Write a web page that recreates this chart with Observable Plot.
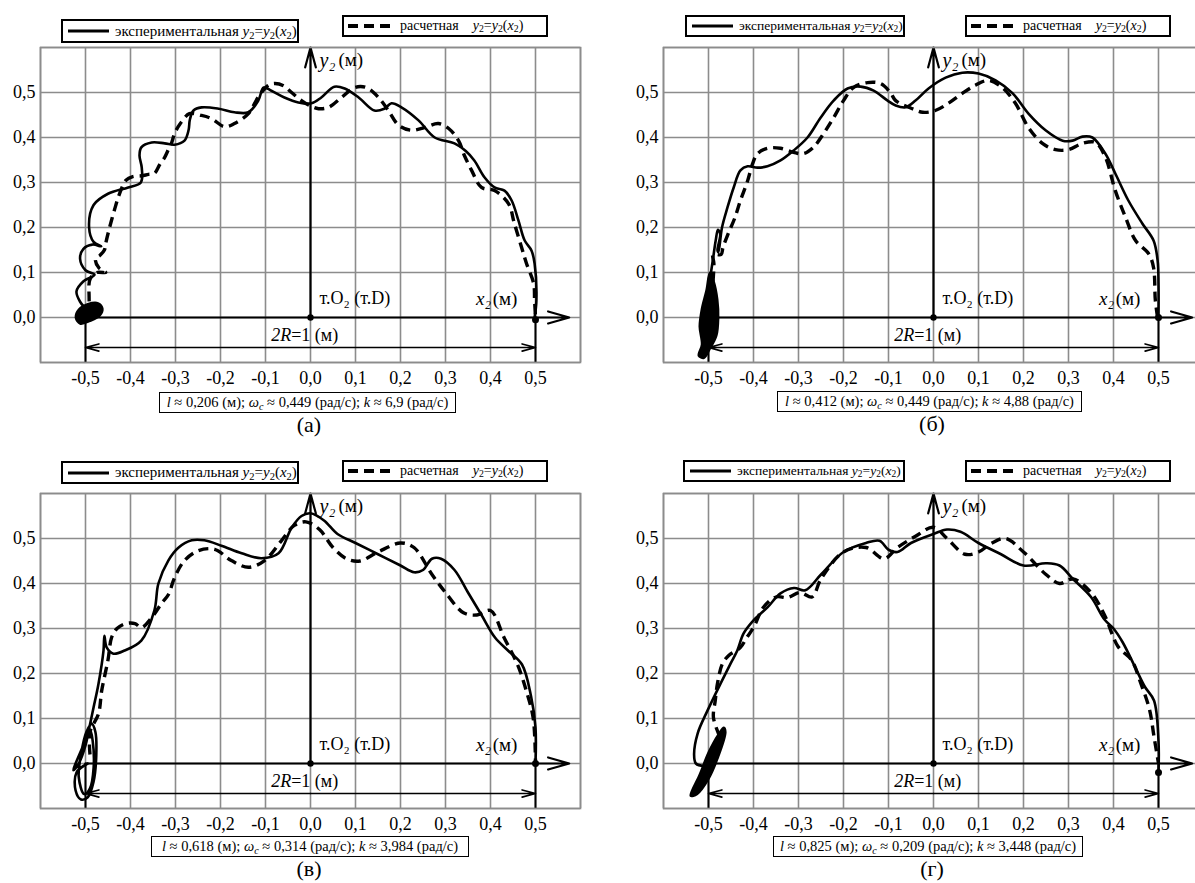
<!DOCTYPE html>
<html><head><meta charset="utf-8">
<script src="https://cdn.jsdelivr.net/npm/d3@7"></script>
<script src="https://cdn.jsdelivr.net/npm/@observablehq/plot@0.6"></script>
<style>
body{margin:0;background:#fff}
#fig{position:relative;width:1195px;height:883px;overflow:hidden;background:#fff;font-family:"Liberation Serif","DejaVu Serif","Times New Roman",serif;color:#000}
.pl{position:absolute;width:600px;height:440px}
.pl svg{max-width:none !important;width:600px;height:440px}
.box{position:absolute;border:2px solid #000;box-sizing:border-box;background:#fff;white-space:nowrap;display:flex;align-items:center;font-size:15px}
.box svg{flex:none}
.cap{position:absolute;border:1.5px solid #000;box-sizing:border-box;background:#fff;white-space:nowrap;text-align:center;font-size:14.5px;line-height:18px}
.let{position:absolute;width:100px;text-align:center;font-size:22px}
sub{font-size:0.7em;vertical-align:-0.25em;line-height:0}
</style></head><body><div id="fig"></div>
<script>
// ---------- data ----------
const gridX = [-0.6,-0.5,-0.4,-0.3,-0.2,-0.1,0,0.1,0.2,0.3,0.4,0.5,0.6];
const gridY = [-0.1,0,0.1,0.2,0.3,0.4,0.5,0.6];
const xTicks = [-0.5,-0.4,-0.3,-0.2,-0.1,0,0.1,0.2,0.3,0.4,0.5];
const yTicks = [0,0.1,0.2,0.3,0.4,0.5];
const panelLetters = ["(а)","(б)","(в)","(г)"];
const lValues = ["0,206","0,412","0,618","0,825"];
const omegaValues = ["0,449","0,449","0,314","0,209"];
const kValues = ["6,9","4,88","3,984","3,448"];

// panel (а)
const blobA = [[-0.522,0.0],[-0.515,0.018],[-0.495,0.03],[-0.472,0.032],[-0.462,0.02],[-0.468,0.004],[-0.49,-0.008],[-0.512,-0.014]];
const solidA = [[-0.49,0.01],[-0.512,0.035],[-0.52,0.058],[-0.505,0.08],[-0.48,0.095],[-0.50,0.105],[-0.512,0.13],[-0.505,0.152],[-0.485,0.162],[-0.465,0.158],[-0.482,0.168],[-0.492,0.2],[-0.482,0.25],[-0.45,0.275],[-0.405,0.289],[-0.377,0.30],[-0.375,0.333],[-0.38,0.36],[-0.376,0.378],[-0.353,0.389],[-0.324,0.387],[-0.302,0.384],[-0.28,0.393],[-0.271,0.416],[-0.268,0.44],[-0.26,0.46],[-0.242,0.467],[-0.204,0.464],[-0.169,0.456],[-0.138,0.456],[-0.116,0.482],[-0.104,0.511],[-0.087,0.504],[-0.058,0.489],[-0.027,0.478],[0.002,0.476],[0.024,0.489],[0.053,0.513],[0.076,0.509],[0.107,0.489],[0.142,0.46],[0.164,0.464],[0.18,0.476],[0.202,0.467],[0.24,0.438],[0.276,0.40],[0.32,0.387],[0.345,0.37],[0.364,0.349],[0.387,0.311],[0.409,0.289],[0.431,0.282],[0.447,0.26],[0.462,0.216],[0.476,0.171],[0.491,0.149],[0.498,0.12],[0.502,0.038],[0.498,0.0]];
const dashedA = [[-0.49,0.0],[-0.492,0.045],[-0.49,0.085],[-0.475,0.1],[-0.455,0.1],[-0.47,0.11],[-0.478,0.13],[-0.468,0.138],[-0.458,0.15],[-0.455,0.165],[-0.447,0.198],[-0.436,0.238],[-0.424,0.276],[-0.41,0.305],[-0.395,0.313],[-0.375,0.315],[-0.36,0.318],[-0.347,0.32],[-0.335,0.34],[-0.324,0.356],[-0.315,0.375],[-0.309,0.387],[-0.302,0.409],[-0.29,0.43],[-0.269,0.453],[-0.242,0.449],[-0.22,0.442],[-0.191,0.424],[-0.169,0.431],[-0.138,0.453],[-0.116,0.49],[-0.095,0.515],[-0.08,0.52],[-0.06,0.515],[-0.042,0.50],[-0.02,0.482],[0.0,0.47],[0.018,0.464],[0.04,0.467],[0.069,0.489],[0.098,0.511],[0.124,0.511],[0.151,0.489],[0.173,0.46],[0.196,0.427],[0.224,0.416],[0.253,0.422],[0.284,0.431],[0.307,0.42],[0.329,0.393],[0.342,0.36],[0.358,0.327],[0.38,0.289],[0.409,0.282],[0.44,0.253],[0.453,0.209],[0.469,0.156],[0.48,0.12],[0.496,0.075],[0.498,0.038],[0.5,0.0]];
const endA = [[0.5,-0.005]];

// panel (б)
const blobB = [[-0.522,-0.085],[-0.515,-0.06],[-0.52,-0.02],[-0.515,0.02],[-0.505,0.06],[-0.497,0.1],[-0.488,0.08],[-0.48,0.04],[-0.478,0.0],[-0.482,-0.04],[-0.497,-0.07],[-0.51,-0.09]];
const solidB = [[-0.496,0.09],[-0.49,0.13],[-0.484,0.171],[-0.479,0.195],[-0.474,0.185],[-0.48,0.15],[-0.478,0.145],[-0.47,0.2],[-0.458,0.244],[-0.444,0.289],[-0.429,0.327],[-0.413,0.336],[-0.391,0.333],[-0.369,0.336],[-0.34,0.349],[-0.311,0.371],[-0.28,0.40],[-0.251,0.444],[-0.222,0.482],[-0.191,0.509],[-0.162,0.513],[-0.133,0.504],[-0.102,0.482],[-0.084,0.471],[-0.062,0.467],[-0.04,0.482],[-0.011,0.509],[0.027,0.533],[0.064,0.544],[0.1,0.542],[0.138,0.527],[0.176,0.498],[0.211,0.453],[0.249,0.416],[0.287,0.393],[0.309,0.393],[0.331,0.402],[0.353,0.40],[0.382,0.364],[0.404,0.32],[0.433,0.26],[0.464,0.209],[0.489,0.171],[0.498,0.127],[0.5,0.075],[0.5,0.0]];
const dashedB = [[-0.49,0.08],[-0.488,0.12],[-0.49,0.14],[-0.472,0.14],[-0.468,0.155],[-0.456,0.187],[-0.442,0.22],[-0.429,0.26],[-0.413,0.304],[-0.402,0.342],[-0.391,0.364],[-0.369,0.376],[-0.34,0.376],[-0.311,0.367],[-0.289,0.364],[-0.267,0.378],[-0.244,0.409],[-0.222,0.444],[-0.2,0.482],[-0.178,0.511],[-0.147,0.522],[-0.118,0.52],[-0.096,0.50],[-0.084,0.482],[-0.047,0.464],[-0.024,0.456],[0.004,0.46],[0.033,0.476],[0.064,0.498],[0.093,0.516],[0.122,0.527],[0.153,0.511],[0.182,0.476],[0.211,0.422],[0.242,0.387],[0.271,0.373],[0.3,0.373],[0.331,0.387],[0.36,0.389],[0.382,0.356],[0.404,0.282],[0.427,0.222],[0.449,0.171],[0.478,0.142],[0.489,0.111],[0.493,0.038],[0.498,0.0]];
const endB = [[0.5,0.0]];

// panel (в)
const blobC = [[-0.5,0.0],[-0.5,0.0]];
const solidC = [[-0.495,0.0],[-0.52,-0.02],[-0.522,-0.06],[-0.51,-0.08],[-0.495,-0.075],[-0.482,-0.04],[-0.476,0.02],[-0.478,0.07],[-0.486,0.088],[-0.498,0.07],[-0.51,0.02],[-0.515,-0.03],[-0.503,-0.068],[-0.49,-0.055],[-0.482,-0.01],[-0.484,0.05],[-0.49,0.075],[-0.505,0.04],[-0.527,-0.015],[-0.515,0.0],[-0.5,0.04],[-0.493,0.073],[-0.482,0.125],[-0.471,0.178],[-0.46,0.251],[-0.458,0.284],[-0.453,0.258],[-0.438,0.244],[-0.413,0.251],[-0.376,0.273],[-0.347,0.34],[-0.338,0.40],[-0.316,0.451],[-0.293,0.48],[-0.264,0.496],[-0.236,0.496],[-0.198,0.484],[-0.153,0.467],[-0.109,0.456],[-0.071,0.467],[-0.042,0.524],[-0.02,0.55],[0.0,0.556],[0.03,0.54],[0.06,0.51],[0.1,0.49],[0.15,0.465],[0.2,0.44],[0.23,0.425],[0.25,0.43],[0.27,0.455],[0.29,0.455],[0.32,0.43],[0.35,0.38],[0.38,0.33],[0.41,0.28],[0.44,0.25],[0.47,0.22],[0.49,0.15],[0.5,0.08],[0.5,0.0]];
const dashedC = [[-0.49,0.02],[-0.49,0.07],[-0.471,0.111],[-0.464,0.162],[-0.45,0.23],[-0.442,0.28],[-0.43,0.3],[-0.41,0.311],[-0.39,0.311],[-0.376,0.302],[-0.353,0.324],[-0.331,0.356],[-0.316,0.375],[-0.302,0.413],[-0.28,0.451],[-0.249,0.473],[-0.213,0.476],[-0.176,0.451],[-0.138,0.436],[-0.102,0.451],[-0.064,0.496],[-0.036,0.529],[-0.01,0.537],[0.02,0.52],[0.05,0.48],[0.08,0.455],[0.11,0.45],[0.15,0.47],[0.2,0.49],[0.23,0.48],[0.27,0.42],[0.3,0.38],[0.34,0.335],[0.37,0.33],[0.4,0.34],[0.43,0.28],[0.46,0.22],[0.48,0.16],[0.495,0.1],[0.5,0.0]];
const endC = [[0.5,0.0]];

// panel (г)
const blobD = [[-0.54,-0.072],[-0.525,-0.068],[-0.50,-0.035],[-0.48,0.01],[-0.462,0.07],[-0.466,0.08],[-0.478,0.065],[-0.50,0.025],[-0.52,-0.025]];
const solidD = [[-0.49,0.0],[-0.51,-0.005],[-0.528,0.0],[-0.532,0.02],[-0.524,0.067],[-0.502,0.118],[-0.473,0.178],[-0.451,0.222],[-0.436,0.251],[-0.422,0.289],[-0.40,0.318],[-0.369,0.347],[-0.34,0.378],[-0.31,0.39],[-0.285,0.385],[-0.25,0.42],[-0.2,0.47],[-0.15,0.49],[-0.12,0.495],[-0.1,0.475],[-0.08,0.47],[-0.05,0.49],[0.0,0.51],[0.03,0.52],[0.06,0.515],[0.1,0.49],[0.15,0.465],[0.2,0.44],[0.25,0.445],[0.28,0.44],[0.31,0.41],[0.35,0.37],[0.38,0.32],[0.4,0.30],[0.42,0.27],[0.45,0.21],[0.47,0.17],[0.49,0.14],[0.5,0.05],[0.5,-0.02]];
const dashedD = [[-0.475,0.06],[-0.489,0.102],[-0.485,0.14],[-0.48,0.178],[-0.469,0.222],[-0.455,0.24],[-0.429,0.258],[-0.415,0.28],[-0.40,0.302],[-0.378,0.347],[-0.35,0.37],[-0.324,0.369],[-0.296,0.38],[-0.27,0.37],[-0.25,0.41],[-0.2,0.47],[-0.15,0.48],[-0.11,0.455],[-0.08,0.48],[-0.04,0.505],[0.0,0.525],[0.03,0.5],[0.07,0.465],[0.1,0.47],[0.13,0.49],[0.16,0.50],[0.2,0.47],[0.25,0.42],[0.28,0.40],[0.31,0.41],[0.35,0.38],[0.38,0.33],[0.41,0.26],[0.44,0.23],[0.46,0.18],[0.48,0.12],[0.49,0.06],[0.5,0.0]];
const endD = [[0.5,-0.02]];

// ---------- drawing ----------
const FONT = "'Liberation Serif', 'DejaVu Serif', 'Times New Roman', serif";
const fmt = d => (d < 0 ? "-" : "") + Math.abs(d).toFixed(1).replace(".", ",");
const X = d => d[0], Y = d => d[1];
const GRID = "#8c8c8c";

function makePlot(solid, dashed, blob, end) {
  return Plot.plot({
    width: 600, height: 440,
    marginLeft: 40, marginRight: 20, marginTop: 47, marginBottom: 78,
    x: {domain: [-0.6, 0.6]},
    y: {domain: [-0.1, 0.6]},
    style: {fontFamily: FONT, fontSize: "18px", background: "transparent", color: "#000"},
    marks: [
      Plot.ruleX(gridX, {stroke: GRID, strokeWidth: 1.6}),
      Plot.ruleY(gridY, {stroke: GRID, strokeWidth: 1.6}),
      Plot.axisX(xTicks, {tickSize: 0, tickPadding: 9, tickFormat: fmt, fontSize: 18, label: null}),
      Plot.axisY(yTicks, {tickSize: 0, tickPadding: 5, tickFormat: fmt, fontSize: 18, label: null}),
      // axes of the drawing
      Plot.arrow([[-0.5, 0, 0.575, 0]], {x1: d => d[0], y1: d => d[1], x2: d => d[2], y2: d => d[3], stroke: "#000", strokeWidth: 2.2, headLength: 15, headAngle: 32}),
      Plot.arrow([[0, 0, 0, 0.6]], {x1: d => d[0], y1: d => d[1], x2: d => d[2], y2: d => d[3], stroke: "#000", strokeWidth: 2.2, headLength: 14, headAngle: 30}),
      Plot.ruleX([-0.5, 0.5], {y1: -0.1, y2: 0, stroke: "#000", strokeWidth: 2}),
      Plot.arrow([[0, -0.0667, 0.5, -0.0667], [0, -0.0667, -0.5, -0.0667]], {x1: d => d[0], y1: d => d[1], x2: d => d[2], y2: d => d[3], stroke: "#000", strokeWidth: 1.6, headLength: 13, headAngle: 30}),
      // curves
      Plot.line(blob, {x: X, y: Y, curve: "catmull-rom-closed", fill: "#000", stroke: "#000", strokeWidth: 2}),
      Plot.line(dashed, {x: X, y: Y, curve: "catmull-rom", stroke: "#000", strokeWidth: 3.4, strokeDasharray: "10,6", strokeLinecap: "butt"}),
      Plot.line(solid, {x: X, y: Y, curve: "catmull-rom", stroke: "#000", strokeWidth: 2.6}),
      Plot.dot([[0, 0]], {x: X, y: Y, r: 3.2, fill: "#000"}),
      Plot.dot(end, {x: X, y: Y, r: 3.5, fill: "#000"}),
      // labels
      Plot.text(["y₂"], {x: 0.02, y: 0.572, text: d => d, textAnchor: "start", fontSize: 20, fontStyle: "italic"}),
      Plot.text(["(м)"], {x: 0.062, y: 0.572, text: d => d, textAnchor: "start", fontSize: 19}),
      Plot.text(["т.O₂ (т.D)"], {x: 0.02, y: 0.042, text: d => d, textAnchor: "start", fontSize: 18}),
      Plot.text(["x₂"], {x: 0.368, y: 0.042, text: d => d, textAnchor: "start", fontSize: 19, fontStyle: "italic"}),
      Plot.text(["(м)"], {x: 0.405, y: 0.042, text: d => d, textAnchor: "start", fontSize: 19}),
      Plot.text(["2R"], {x: -0.043, y: -0.04, text: d => d, textAnchor: "end", fontSize: 18, fontStyle: "italic"}),
      Plot.text(["=1 (м)"], {x: -0.043, y: -0.04, text: d => d, textAnchor: "start", fontSize: 18}),
      Plot.frame({stroke: GRID, strokeWidth: 1.6})
    ]
  });
}

const fig = document.getElementById("fig");
const panels = [
  {solid: solidA, dashed: dashedA, blob: blobA, end: endA, left: 0, top: 0, b1: [61, 19, 238, 24], b2: [342, 15, 206, 22], cap: [159, 392, 297, 21], fs1: 15},
  {solid: solidB, dashed: dashedB, blob: blobB, end: endB, left: 623, top: 0, b1: [685, 15, 220, 22], b2: [965, 15, 206, 22], cap: [777, 391, 305, 21], fs1: 13.5},
  {solid: solidC, dashed: dashedC, blob: blobC, end: endC, left: 0, top: 446, b1: [61, 461, 238, 23], b2: [342, 460, 206, 22], cap: [151, 836, 318, 21], fs1: 15},
  {solid: solidD, dashed: dashedD, blob: blobD, end: endD, left: 623, top: 446, b1: [683, 460, 222, 22], b2: [965, 460, 206, 22], cap: [773, 836, 310, 21], fs1: 13.5}
];

const formula = '<i>y</i><sub>2</sub>=<i>y</i><sub>2</sub>(<i>x</i><sub>2</sub>)';
panels.forEach((p, i) => {
  const svg = makePlot(p.solid, p.dashed, p.blob, p.end);
  svg.style.maxWidth = "none";
  const wrap = document.createElement("div");
  wrap.className = "pl";
  wrap.style.left = p.left + "px";
  wrap.style.top = p.top + "px";
  wrap.appendChild(svg);
  fig.appendChild(wrap);

  const b1 = document.createElement("div");
  b1.className = "box";
  Object.assign(b1.style, {left: p.b1[0] + "px", top: p.b1[1] + "px", width: p.b1[2] + "px", height: p.b1[3] + "px", fontSize: p.fs1 + "px"});
  b1.innerHTML = '<svg width="50" height="10"><line x1="5" x2="46" y1="5" y2="5" stroke="#000" stroke-width="3"/></svg><span style="margin-left:2px">экспериментальная ' + formula + '</span>';
  fig.appendChild(b1);

  const b2 = document.createElement("div");
  b2.className = "box";
  Object.assign(b2.style, {left: p.b2[0] + "px", top: p.b2[1] + "px", width: p.b2[2] + "px", height: p.b2[3] + "px", fontSize: "14px"});
  b2.innerHTML = '<svg width="52" height="10"><line x1="4" x2="46" y1="5" y2="5" stroke="#000" stroke-width="4" stroke-dasharray="10,6"/></svg><span style="margin-left:4px">расчетная&nbsp;&nbsp;&nbsp;&nbsp;' + formula + '</span>';
  fig.appendChild(b2);

  const cap = document.createElement("div");
  cap.className = "cap";
  Object.assign(cap.style, {left: p.cap[0] + "px", top: p.cap[1] + "px", width: p.cap[2] + "px", height: p.cap[3] + "px"});
  cap.innerHTML = '<i>l</i> ≈ ' + lValues[i] + ' (м); <i>ω</i><sub><i>c</i></sub> ≈ ' + omegaValues[i] + ' (рад/с); <i>k</i> ≈ ' + kValues[i] + ' (рад/с)';
  fig.appendChild(cap);

  const let_ = document.createElement("div");
  let_.className = "let";
  Object.assign(let_.style, {left: (p.left + 259) + "px", top: (p.cap[1] + 20) + "px"});
  let_.textContent = panelLetters[i];
  fig.appendChild(let_);
});
</script></body></html>
